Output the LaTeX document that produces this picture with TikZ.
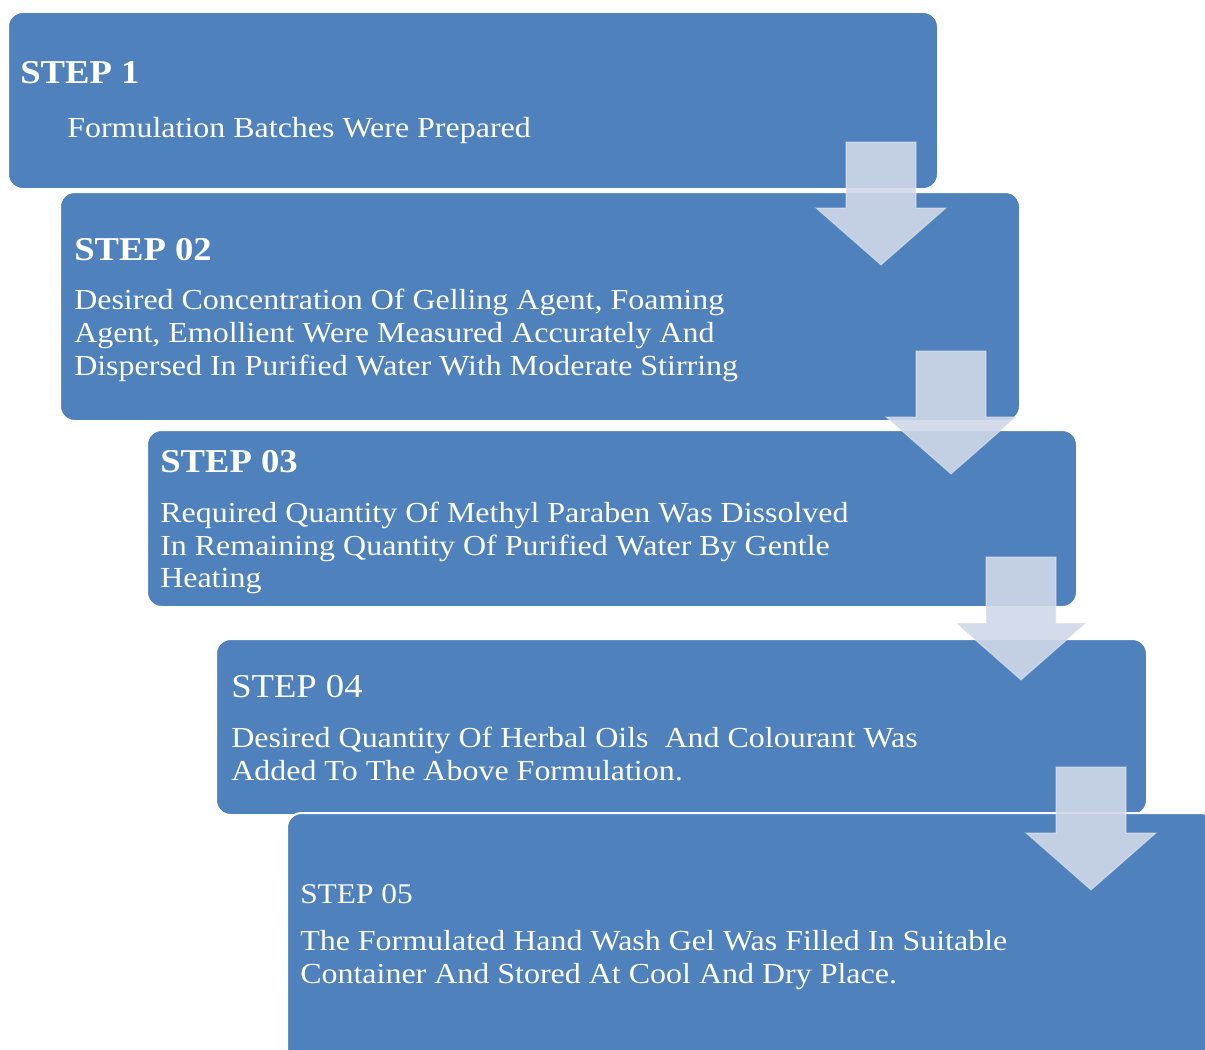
\documentclass[tikz,border=0pt]{standalone}
\usepackage{fontspec}
\setmainfont{Liberation Serif}[FakeStretch=1.1]
\definecolor{boxblue}{HTML}{4F81BD}
\definecolor{arrowfill}{HTML}{D0D8E8}
\begin{document}
\begin{tikzpicture}[x=0.75pt,y=-0.75pt,
  stepbox/.style={fill=boxblue, draw=white, line width=1.5pt, rounded corners=11pt},
  flowarrow/.style={fill=arrowfill, fill opacity=0.9, draw=white, draw opacity=0.35, line width=0.8pt},
  headb/.style={anchor=base west, inner sep=0pt, text=white, font=\fontsize{25}{30}\selectfont\bfseries},
  headr/.style={anchor=base west, inner sep=0pt, text=white, font=\fontsize{25}{30}\selectfont},
  heads/.style={anchor=base west, inner sep=0pt, text=white, font=\fontsize{21.4}{25}\selectfont},
  bodyt/.style={anchor=base west, inner sep=0pt, text=white, font=\fontsize{21.8}{25}\selectfont},
  downarrow/.pic={\path[flowarrow] (-35,0) -- (35,0) -- (35,66) -- (65,66) -- (0,123) -- (-65,66) -- (-35,66) -- cycle;}
]
\clip (0,0) rectangle (1205,1049);
\fill[white] (0,0) rectangle (1205,1049);

% boxes
\path[stepbox] (8,12) rectangle (938,189);
\path[stepbox] (60,192) rectangle (1020,421);
\path[stepbox] (147,430) rectangle (1077,607);
\path[stepbox] (216,639) rectangle (1147,815);
\path[stepbox] (287,813) rectangle (1215,1075);

% texts box 1
\node[headb] (h1) at (20,84) {STEP 1};
\node[bodyt] (t11) at (67,137) {Formulation Batches Were Prepared};

% box 2
\node[headb] (h2) at (74,260) {STEP 02};
\node[bodyt] (t21) at (74,309) {Desired Concentration Of Gelling Agent, Foaming};
\node[bodyt] (t22) at (74,342) {Agent, Emollient Were Measured Accurately And};
\node[bodyt] (t23) at (74,375) {Dispersed In Purified Water With Moderate Stirring};

% box 3
\node[headb] (h3) at (160,472) {STEP 03};
\node[bodyt] (t31) at (160,522) {Required Quantity Of Methyl Paraben Was Dissolved};
\node[bodyt] (t32) at (160,555) {In Remaining Quantity Of Purified Water By Gentle};
\node[bodyt] (t33) at (160,587) {Heating};

% box 4
\node[headr] (h4) at (231,697) {STEP 04};
\node[bodyt] (t41) at (231,747) {Desired Quantity Of Herbal Oils \ And Colourant Was};
\node[bodyt] (t42) at (231,780) {Added To The Above Formulation.};

% box 5
\node[heads] (h5) at (300,903) {STEP 05};
\node[bodyt] (t51) at (300,950) {The Formulated Hand Wash Gel Was Filled In Suitable};
\node[bodyt] (t52) at (300,983) {Container And Stored At Cool And Dry Place.};

% arrows
\pic at (881,142) {downarrow};
\pic at (951,351) {downarrow};
\pic at (1021,557) {downarrow};
\pic at (1091,767) {downarrow};
\end{tikzpicture}
\end{document}
